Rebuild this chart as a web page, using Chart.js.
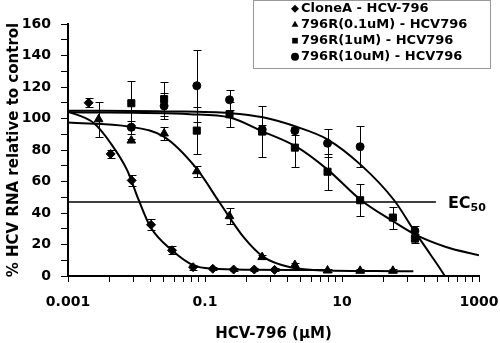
<!DOCTYPE html>
<html>
<head>
<meta charset="utf-8">
<script src="https://cdn.jsdelivr.net/npm/chart.js@4.4.1/dist/chart.umd.min.js"></script>
<style>
html, body { margin: 0; padding: 0; background: #fff; }
#wrap { width: 500px; height: 343px; position: relative; }
</style>
</head>
<body>
<div id="wrap"><canvas id="myChart"></canvas></div>
<script>
// axis ticks
const xMajorTicks = [0.001, 0.1, 10, 1000];
const xTickLabels = ['0.001', '0.1', '10', '1000'];
const xMinorSteps = [4, 9, 16, 25, 36, 49, 64, 81];
const yTickLabels = [0, 20, 40, 60, 80, 100, 120, 140, 160];

const seriesNames = ['CloneA - HCV-796', '796R(0.1uM) - HCV796', '796R(1uM) - HCV796', '796R(10uM) - HCV796'];

// measured points (mean, error)
const cloneDose = [0.002, 0.0042, 0.0085, 0.0163, 0.033, 0.067, 0.13, 0.262, 0.524, 1.036];
const cloneVal  = [110, 77.5, 60.7, 32.5, 16.3, 5.6, 4.6, 4.1, 4.1, 3.9];
const cloneErr  = [3, 2.5, 3.5, 3.5, 2.5, 1.5, 1, 1, 1, 1];

const r01Dose = [0.0028, 0.0084, 0.0253, 0.0759, 0.228, 0.683, 2.05, 6.15, 18.4, 55.3];
const r01Val  = [99.5, 86, 90.5, 66.5, 38, 12, 7, 3.5, 3.3, 3.3];
const r01Err  = [11, 1, 4, 3.5, 5, 1.5, 1.5, 1, 1, 1];

const r1Dose = [0.0084, 0.0253, 0.0759, 0.228, 0.683, 2.05, 6.15, 18.4, 55.3, 116];
const r1Val  = [109.7, 112.3, 92.3, 102.7, 91.7, 81.5, 66.2, 48.1, 37.1, 23.7];
const r1Err  = [14, 11, 15, 8, 16, 12, 11.5, 10, 7, 3];

const r10Dose = [0.0084, 0.0253, 0.0759, 0.228, 0.683, 2.05, 6.15, 18.4, 116];
const r10Val  = [94.4, 108, 120.8, 111.9, 93, 92.3, 84.3, 82.1, 28.6];
const r10Err  = [4, 8, 23, 6.5, 3, 2.5, 9, 13, 3];

// fitted curves
const cloneFitDose = [0.001, 0.0024, 0.0042, 0.0073, 0.0108, 0.016, 0.033, 0.068, 0.13, 0.5, 2, 6.6];
const cloneFitVal  = [104.5, 97, 84.3, 67.2, 48.1, 31.1, 16.3, 6.7, 4.6, 4, 3.8, 3.7];

const r01FitDose = [0.001, 0.008, 0.025, 0.075, 0.167, 0.366, 0.72, 1.75, 6, 30, 110];
const r01FitVal  = [97.4, 94.8, 88.5, 68.3, 46, 24.7, 12, 5.6, 3.5, 3.2, 3];

const r1FitDose = [0.001, 0.06, 0.23, 0.7, 2.15, 6.1, 19, 57.7, 116, 330, 1000];
const r1FitVal  = [104, 102.7, 100.6, 91.7, 82.1, 67.7, 48.1, 34.3, 26.4, 18.4, 13.1];

const r10FitDose = [0.001, 0.03, 0.23, 0.7, 2.15, 6.1, 19, 57.7, 116, 193, 302, 400];
const r10FitVal  = [105, 104.5, 103.4, 100.8, 94.8, 86.8, 70.4, 48.1, 28, 14, 1.4, -8];

const ec50Level = 47;
const ec50Dose = [0.001, 235];

const xTicks = [];
xMajorTicks.forEach((m, i) => {
  xTicks.push(m);
  if (i < xMajorTicks.length - 1) xMinorSteps.forEach(k => xTicks.push(m * k));
});

const pts = (xs, ys) => xs.map((v, i) => ({x: v, y: ys[i]}));
const font = (size) => ({family: 'DejaVu Sans', weight: 'bold', size: size});

function pointSet(label, xs, ys, errs, style, r) {
  return {
    label: label, data: pts(xs, ys), errors: errs, showLine: false,
    pointStyle: style, pointRadius: r, pointBackgroundColor: '#000',
    pointBorderColor: '#000', pointBorderWidth: 1
  };
}
function curveSet(xs, ys) {
  return {
    data: pts(xs, ys), showLine: true, pointRadius: 0, borderColor: '#000',
    borderWidth: 2, cubicInterpolationMode: 'monotone', clip: 0
  };
}

const errorBars = {
  id: 'errorBars',
  afterDatasetsDraw(chart) {
    const {ctx, scales: {x, y}} = chart;
    ctx.save();
    ctx.strokeStyle = '#000';
    ctx.lineWidth = 1;
    chart.data.datasets.forEach(ds => {
      if (!ds.errors) return;
      ds.data.forEach((p, j) => {
        const e = ds.errors[j];
        const px = Math.round(x.getPixelForValue(p.x)) + 0.5;
        const t = Math.round(y.getPixelForValue(p.y + e)) + 0.5;
        const b = Math.round(y.getPixelForValue(p.y - e)) + 0.5;
        ctx.beginPath();
        ctx.moveTo(px, t); ctx.lineTo(px, b);
        ctx.moveTo(px - 4, t); ctx.lineTo(px + 4, t);
        ctx.moveTo(px - 4, b); ctx.lineTo(px + 4, b);
        ctx.stroke();
      });
    });
    ctx.restore();
  }
};

const extras = {
  id: 'extras',
  afterDraw(chart) {
    const {ctx, chartArea, scales: {x, y}} = chart;
    ctx.save();
    ctx.fillStyle = '#000';
    // x tick labels
    ctx.font = 'bold 14px "DejaVu Sans"';
    ctx.textAlign = 'center';
    ctx.textBaseline = 'middle';
    xMajorTicks.forEach((v, i) => {
      ctx.fillText(xTickLabels[i], x.getPixelForValue(v), chartArea.bottom + 26);
    });
    // EC50 label
    ctx.textAlign = 'left';
    const ex = x.getPixelForValue(ec50Dose[1]) + 12;
    const ey = y.getPixelForValue(ec50Level);
    ctx.textBaseline = 'alphabetic';
    ctx.font = 'bold 16px "DejaVu Sans"';
    ctx.fillText('EC', ex, ey + 6);
    const w = ctx.measureText('EC').width;
    ctx.font = 'bold 11px "DejaVu Sans"';
    ctx.fillText('50', ex + w, ey + 9);
    // legend box
    ctx.strokeStyle = '#999';
    ctx.lineWidth = 1;
    ctx.strokeRect(253.5, 0.5, 237, 68);
    ctx.font = 'bold 13px "DejaVu Sans"';
    ctx.textBaseline = 'middle';
    seriesNames.forEach((name, i) => {
      const ds = chart.data.datasets[i];
      const cy = 8.7 + i * 16;
      Chart.helpers.drawPoint(ctx, {pointStyle: ds.pointStyle, radius: 4, rotation: 0, borderWidth: 0}, 295, cy);
      ctx.fillStyle = '#000';
      ctx.fillText(name, 301, cy);
    });
    ctx.restore();
  }
};

new Chart(document.getElementById('myChart'), {
  type: 'scatter',
  data: {
    datasets: [
      pointSet(seriesNames[0], cloneDose, cloneVal, cloneErr, 'rectRot', 4.5),
      pointSet(seriesNames[1], r01Dose, r01Val, r01Err, 'triangle', 5),
      pointSet(seriesNames[2], r1Dose, r1Val, r1Err, 'rect', 5),
      pointSet(seriesNames[3], r10Dose, r10Val, r10Err, 'circle', 4),
      curveSet(cloneFitDose, cloneFitVal),
      curveSet(r01FitDose, r01FitVal),
      curveSet(r1FitDose, r1FitVal),
      curveSet(r10FitDose, r10FitVal),
      {
        data: ec50Dose.map(v => ({x: v, y: ec50Level})), showLine: true,
        pointRadius: 0, borderColor: '#000', borderWidth: 1.4
      }
    ]
  },
  options: {
    responsive: true,
    maintainAspectRatio: false,
    animation: false,
    layout: {padding: {top: 24, right: 21, left: 0, bottom: 0}},
    plugins: {legend: {display: false}, tooltip: {enabled: false}},
    scales: {
      x: {
        type: 'logarithmic', position: 'bottom', min: 0.001, max: 1000,
        afterBuildTicks: (scale) => { scale.ticks = xTicks.map(v => ({value: v})); },
        afterFit: (scale) => { scale.height = 67; scale.paddingLeft = 0; scale.paddingRight = 0; },
        ticks: {display: false, autoSkip: false},
        grid: {drawOnChartArea: false, drawTicks: true, tickLength: 6, color: '#000'},
        border: {display: true, color: '#000', width: 2},
        title: {display: true, text: 'HCV-796 (μM)', color: '#000', font: font(15), padding: {top: 0, bottom: 0}}
      },
      y: {
        min: 0, max: 160,
        afterFit: (scale) => { scale.width = 68; },
        ticks: {
          stepSize: 10, autoSkip: false, padding: 10, color: '#000', font: font(14),
          callback: (v) => yTickLabels.includes(v) ? v : ''
        },
        grid: {drawOnChartArea: false, drawTicks: true, tickLength: 7, color: '#000'},
        border: {display: true, color: '#000', width: 2},
        title: {display: true, text: '% HCV RNA relative to control', color: '#000', font: font(15), padding: {top: 5, bottom: 0}}
      }
    }
  },
  plugins: [errorBars, extras]
});
</script>
</body>
</html>
